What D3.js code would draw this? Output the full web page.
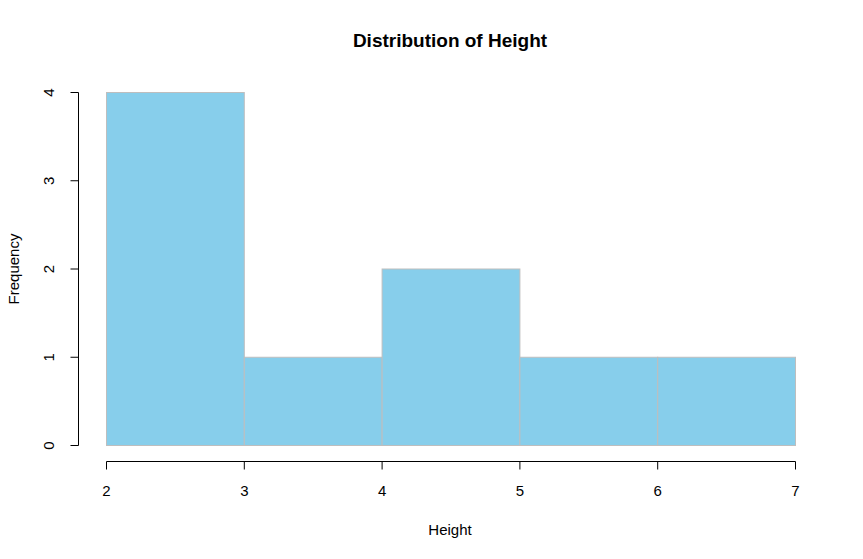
<!DOCTYPE html>
<html>
<head>
<meta charset="utf-8">
<script src="https://cdn.jsdelivr.net/npm/d3@7"></script>
<style>
  body { margin: 0; background: #fff; }
  text { font-family: "Liberation Sans", Arial, sans-serif; fill: #000; }
</style>
</head>
<body>
<svg id="chart" width="863" height="559"></svg>
<script>
// histogram bins and counts
var binStart = [2, 3, 4, 5, 6];
var binEnd = [3, 4, 5, 6, 7];
var counts = [4, 1, 2, 1, 1];
var xTicks = [2, 3, 4, 5, 6, 7];
var yTicks = [0, 1, 2, 3, 4];

var svg = d3.select("#chart");

var x = d3.scaleLinear().domain([2, 7]).range([106.5, 795.5]);
var y = d3.scaleLinear().domain([0, 4]).range([445.5, 92.5]);

// bars
svg.selectAll("rect.bar")
  .data(counts)
  .enter()
  .append("rect")
  .attr("class", "bar")
  .attr("x", (d, i) => x(binStart[i]))
  .attr("y", d => y(d))
  .attr("width", (d, i) => x(binEnd[i]) - x(binStart[i]))
  .attr("height", d => y(0) - y(d))
  .attr("fill", "#87CEEB")
  .attr("stroke", "#BEBEBE")
  .attr("stroke-width", 1);

// x axis
var xAxis = svg.append("g").attr("transform", "translate(0,461.5)");
xAxis.append("line")
  .attr("x1", x(2)).attr("x2", x(7))
  .attr("stroke", "#000");
xAxis.selectAll("line.tick")
  .data(xTicks).enter().append("line")
  .attr("class", "tick")
  .attr("x1", d => x(d)).attr("x2", d => x(d))
  .attr("y1", 0).attr("y2", 8)
  .attr("stroke", "#000");
xAxis.selectAll("text")
  .data(xTicks).enter().append("text")
  .attr("x", d => x(d))
  .attr("y", 34.5)
  .attr("text-anchor", "middle")
  .style("font-size", "15px")
  .text(d => d);

// y axis
var yAxis = svg.append("g").attr("transform", "translate(78.5,0)");
yAxis.append("line")
  .attr("y1", y(0)).attr("y2", y(4))
  .attr("stroke", "#000");
yAxis.selectAll("line.tick")
  .data(yTicks).enter().append("line")
  .attr("class", "tick")
  .attr("y1", d => y(d)).attr("y2", d => y(d))
  .attr("x1", 0).attr("x2", -8)
  .attr("stroke", "#000");
yAxis.selectAll("text")
  .data(yTicks).enter().append("text")
  .attr("transform", d => "translate(-25," + y(d) + ") rotate(-90)")
  .attr("text-anchor", "middle")
  .style("font-size", "15px")
  .text(d => d);

// titles
svg.append("text")
  .attr("x", 450).attr("y", 47)
  .attr("text-anchor", "middle")
  .style("font-size", "19px")
  .style("font-weight", "bold")
  .text("Distribution of Height");

svg.append("text")
  .attr("x", 450).attr("y", 535)
  .attr("text-anchor", "middle")
  .style("font-size", "15px")
  .text("Height");

svg.append("text")
  .attr("transform", "translate(19," + y(2) + ") rotate(-90)")
  .attr("text-anchor", "middle")
  .style("font-size", "15px")
  .text("Frequency");
</script>
</body>
</html>
